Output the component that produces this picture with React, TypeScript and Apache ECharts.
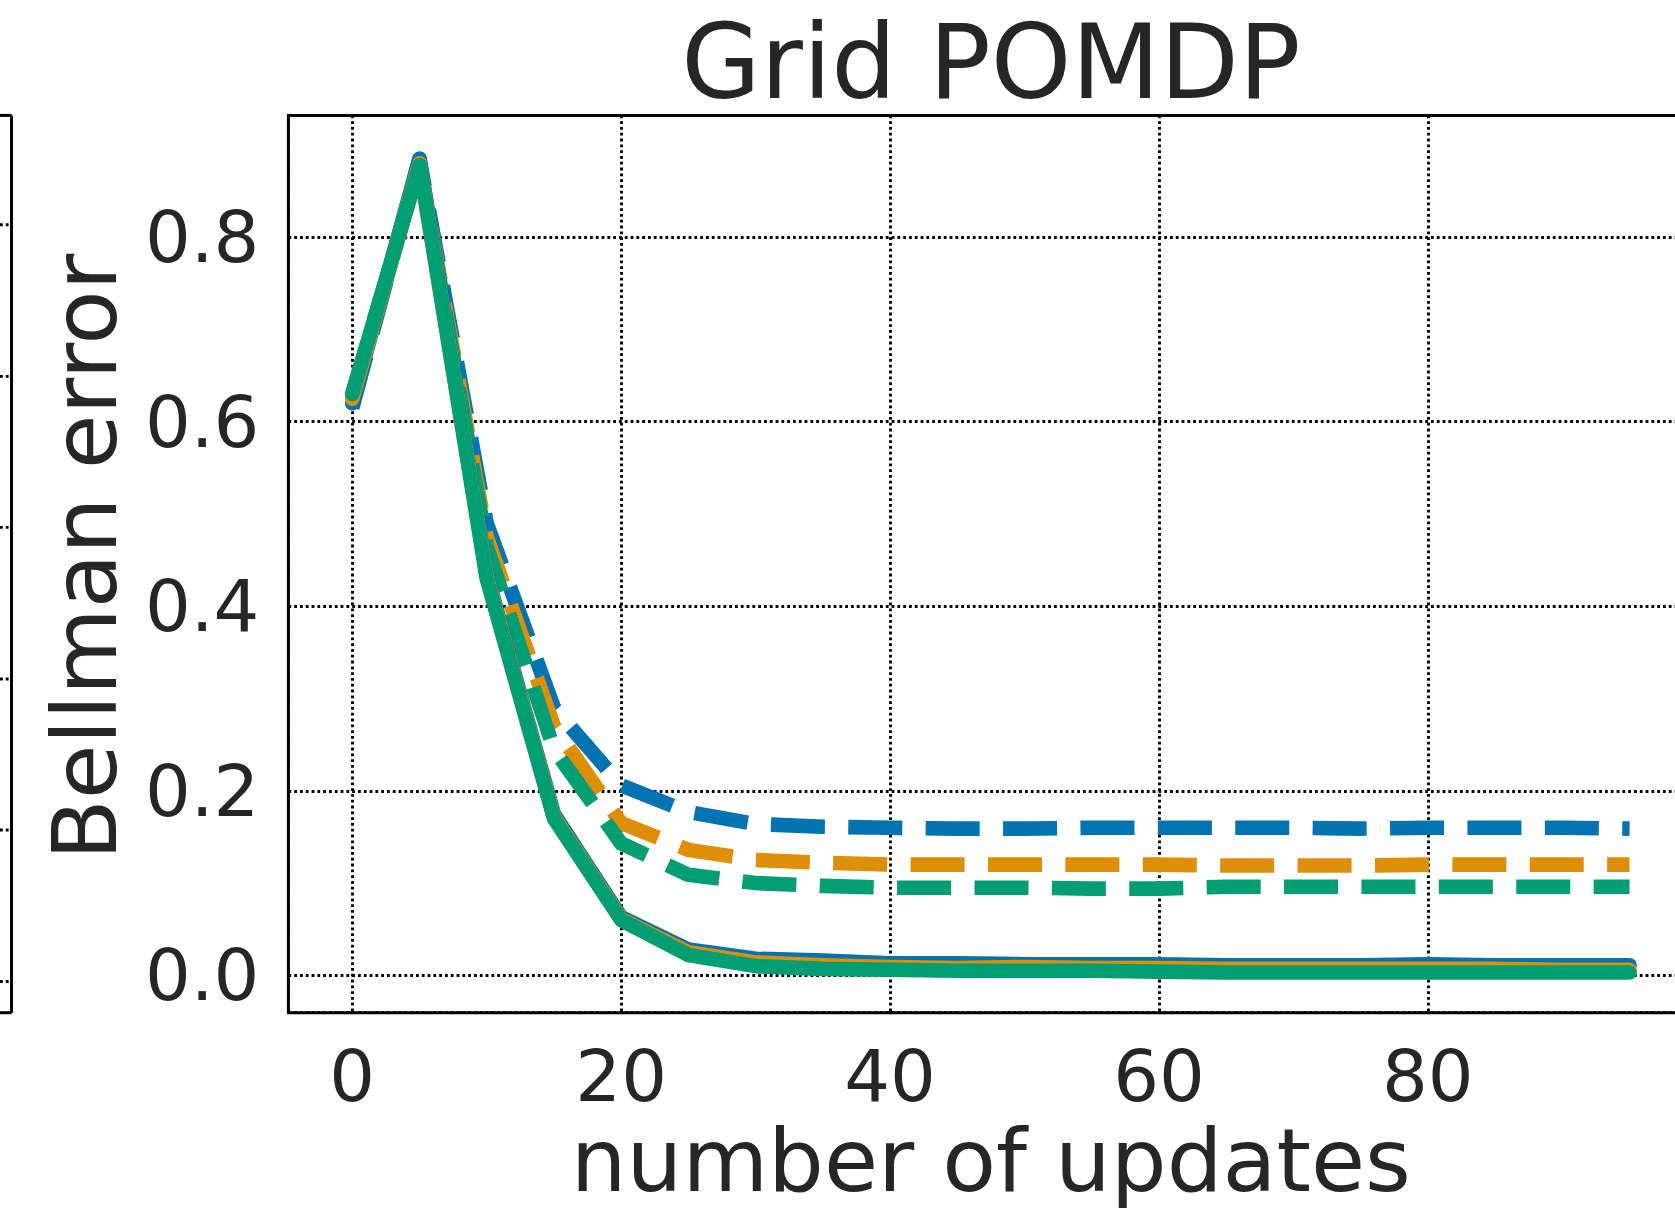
import React, { useEffect, useRef } from "react";
import * as echarts from "echarts";

const updates = [0, 5, 10, 15, 20, 25, 30, 35, 40, 45, 50, 55, 60, 65, 70, 75, 80, 85, 90, 95];

const blueDashed = [0.615, 0.885, 0.49, 0.29, 0.206, 0.177, 0.164, 0.161, 0.16, 0.159, 0.159, 0.16, 0.16, 0.16, 0.16, 0.159, 0.16, 0.16, 0.16, 0.159];
const orangeDashed = [0.625, 0.88, 0.475, 0.27, 0.165, 0.136, 0.125, 0.122, 0.12, 0.12, 0.12, 0.12, 0.12, 0.119, 0.119, 0.119, 0.12, 0.12, 0.12, 0.12];
const greenDashed = [0.63, 0.878, 0.465, 0.245, 0.143, 0.109, 0.1, 0.097, 0.095, 0.095, 0.095, 0.094, 0.094, 0.096, 0.096, 0.096, 0.096, 0.096, 0.096, 0.096];

const blueSolid = [0.62, 0.885, 0.435, 0.175, 0.063, 0.028, 0.018, 0.016, 0.013, 0.013, 0.012, 0.012, 0.012, 0.011, 0.011, 0.011, 0.012, 0.011, 0.011, 0.011];
const orangeSolid = [0.625, 0.88, 0.432, 0.172, 0.061, 0.025, 0.014, 0.011, 0.009, 0.008, 0.009, 0.008, 0.008, 0.007, 0.007, 0.007, 0.007, 0.007, 0.006, 0.006];
const greenSolid = [0.63, 0.878, 0.43, 0.17, 0.06, 0.022, 0.01, 0.007, 0.006, 0.005, 0.005, 0.005, 0.004, 0.003, 0.003, 0.003, 0.003, 0.003, 0.003, 0.003];

const BLUE = "#0173b2";
const ORANGE = "#de8f05";
const GREEN = "#029e73";

const neighbourGridYs = [224.8, 376.4, 527.4, 679, 830, 981.5];

const FONT = "DejaVu Sans";
const TEXT = "#262626";

// The chart canvas is wider than the visible page so that the plot's right
// edge falls outside the view, as in the reference.
const CANVAS_W = 1720;
const CANVAS_H = 1208;

function pairs(ys: number[]) {
  return updates.map((x, i) => [x, ys[i]]);
}

export default function App() {
  const ref = useRef<HTMLDivElement>(null);
  useEffect(() => {
    if (!ref.current) return;
    const chart = echarts.init(ref.current, null, { renderer: "svg" });
    const LW = 14.6;
    const dashed = (name: string, color: string, ys: number[]) => ({
      name,
      type: "line",
      data: pairs(ys),
      symbol: "none",
      lineStyle: { color, width: LW, type: [54, 23.4], cap: "butt", join: "round" },
    });
    const solid = (name: string, color: string, ys: number[]) => ({
      name,
      type: "line",
      data: pairs(ys),
      symbol: "none",
      lineStyle: { color, width: LW, type: "solid", cap: "round", join: "round" },
    });
    const gridDots = { color: "#000", width: 2.9, type: [2.8, 3] };
    const gridGraphics: any[] = [
      { type: "line", shape: { x1: 11.5, y1: 115.4, x2: 11.5, y2: 1012.7 }, style: { stroke: "#000", lineWidth: 3 } },
      { type: "line", shape: { x1: 0, y1: 115.4, x2: 11.5, y2: 115.4 }, style: { stroke: "#000", lineWidth: 3 } },
      { type: "line", shape: { x1: 0, y1: 1012.7, x2: 11.5, y2: 1012.7 }, style: { stroke: "#000", lineWidth: 3 } },
      ...neighbourGridYs.map((y) => ({
        type: "line",
        shape: { x1: 0, y1: y, x2: 10, y2: y },
        style: { stroke: "#000", lineWidth: 2.9, lineDash: [2.8, 3] },
      })),
      {
        type: "text",
        x: 85,
        y: 557,
        rotation: Math.PI / 2,
        style: {
          text: "Bellman error",
          fontFamily: FONT,
          fontSize: 89,
          lineHeight: 70,
          fill: TEXT,
          align: "center",
          verticalAlign: "middle",
        },
      },
      {
        type: "text",
        x: 991,
        y: 62,
        style: {
          text: "Grid POMDP",
          fontFamily: FONT,
          fontSize: 102.5,
          lineHeight: 80,
          fill: TEXT,
          align: "center",
          verticalAlign: "middle",
        },
      },
    ];
    chart.setOption({
      animation: false,
      backgroundColor: "#ffffff",
      grid: {
        left: 288.4,
        top: 115.4,
        width: 1405,
        height: 897.3,
        outerBoundsMode: "none",
        containLabel: false,
        show: true,
        borderColor: "#000",
        borderWidth: 3,
        backgroundColor: "transparent",
      },
      xAxis: {
        type: "value",
        min: -4.75,
        max: 99.75,
        splitNumber: 5,
        name: "number of updates",
        nameLocation: "middle",
        nameGap: 106,
        nameTextStyle: { fontFamily: FONT, fontSize: 88, color: TEXT, lineHeight: 70 },
        axisLine: { show: false },
        axisTick: { show: false },
        axisLabel: {
          fontFamily: FONT,
          fontSize: 72,
          lineHeight: 56,
          color: TEXT,
          margin: 35,
          showMinLabel: false,
          showMaxLabel: false,
          formatter: (v: number) => String(Math.round(v)),
        },
        splitLine: { show: true, lineStyle: gridDots },
      },
      yAxis: {
        type: "value",
        min: -0.0405,
        max: 0.932,
        splitNumber: 5,
        axisLine: { show: false },
        axisTick: { show: false },
        axisLabel: {
          fontFamily: FONT,
          fontSize: 72,
          lineHeight: 56,
          color: TEXT,
          margin: 29,
          showMinLabel: false,
          showMaxLabel: false,
          formatter: (v: number) => v.toFixed(1),
        },
        splitLine: { show: true, lineStyle: gridDots },
      },
      graphic: gridGraphics,
      series: [
        dashed("blue dashed", BLUE, blueDashed),
        dashed("orange dashed", ORANGE, orangeDashed),
        dashed("green dashed", GREEN, greenDashed),
        solid("blue solid", BLUE, blueSolid),
        solid("orange solid", ORANGE, orangeSolid),
        solid("green solid", GREEN, greenSolid),
      ],
    } as any);
    return () => chart.dispose();
  }, []);
  return (
    <div style={{ position: "absolute", left: 0, top: 0, width: 1675, height: 1208, overflow: "hidden", background: "#fff" }}>
      <div ref={ref} style={{ width: CANVAS_W, height: CANVAS_H }} />
    </div>
  );
}
